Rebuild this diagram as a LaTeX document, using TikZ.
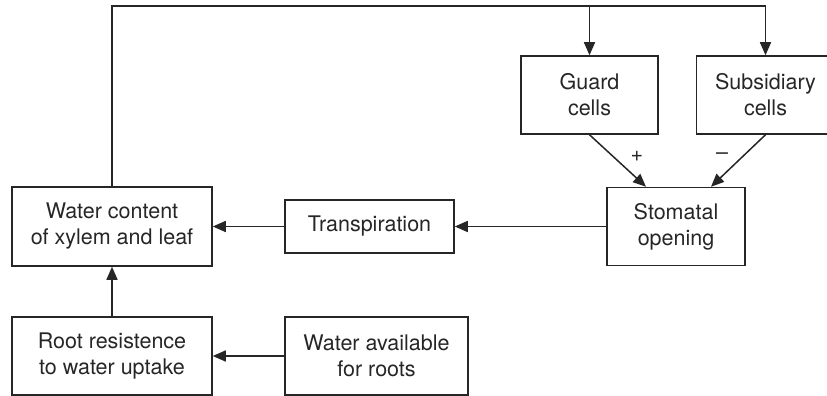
\documentclass[tikz,border=0pt]{standalone}
\usepackage{fontspec}
\setmainfont{TeX Gyre Heros}
\usetikzlibrary{arrows.meta}
\begin{document}
\begin{tikzpicture}[x=1pt,y=-1pt,
  box/.style={draw=black!85, line width=1.5pt, align=center, inner sep=0pt,
    font=\fontsize{21.5}{26}\selectfont, text=black!85, minimum height=78pt},
  arr/.style={draw=black!85, line width=1.5pt, -{Triangle[length=13pt,width=11pt]}},
  sign/.style={font=\fontsize{21.5}{26}\selectfont, text=black!85, inner sep=0pt}]
\useasboundingbox (0,0) rectangle (827,396);
\clip (0,0) rectangle (827,396);
\node[box, minimum width=200pt, minimum height=79pt] (wc) at (112,226.5) {Water content\\of xylem and leaf};
\node[box, minimum width=169pt, minimum height=53pt] (tr) at (369.5,226.5) {Transpiration};
\node[box, minimum width=138pt] (st) at (676,226.5) {Stomatal\\opening};
\node[box, minimum width=137pt] (gd) at (589.5,95) {Guard\\cells};
\node[box, minimum width=138pt] (sub) at (765.5,95) {Subsidiary\\cells};
\node[box, minimum width=200pt] (rr) at (112,356) {Root resistence\\to water uptake};
\node[box, minimum width=183pt] (wa) at (376.5,356) {Water available\\for roots};
\coordinate (ytop) at (0,6);
\draw[arr] (wc.north) |- (sub.north |- ytop) -- (sub.north);
\draw[arr] (gd.north |- ytop) -- (gd.north);
\draw[arr] (tr.west) -- (wc.east);
\draw[arr] (st.west) -- (tr.east);
\draw[arr] (rr.north) -- (wc.south);
\draw[arr] (wa.west) -- (rr.east);
\draw[arr] (gd.south) -- ([xshift=-30pt]st.north);
\draw[arr] (sub.south) -- ([xshift=35pt]st.north);
\node[sign] (plus) at (637,156) {+};
\node[sign] (minus) at (722,156) {–};
\end{tikzpicture}
\end{document}
